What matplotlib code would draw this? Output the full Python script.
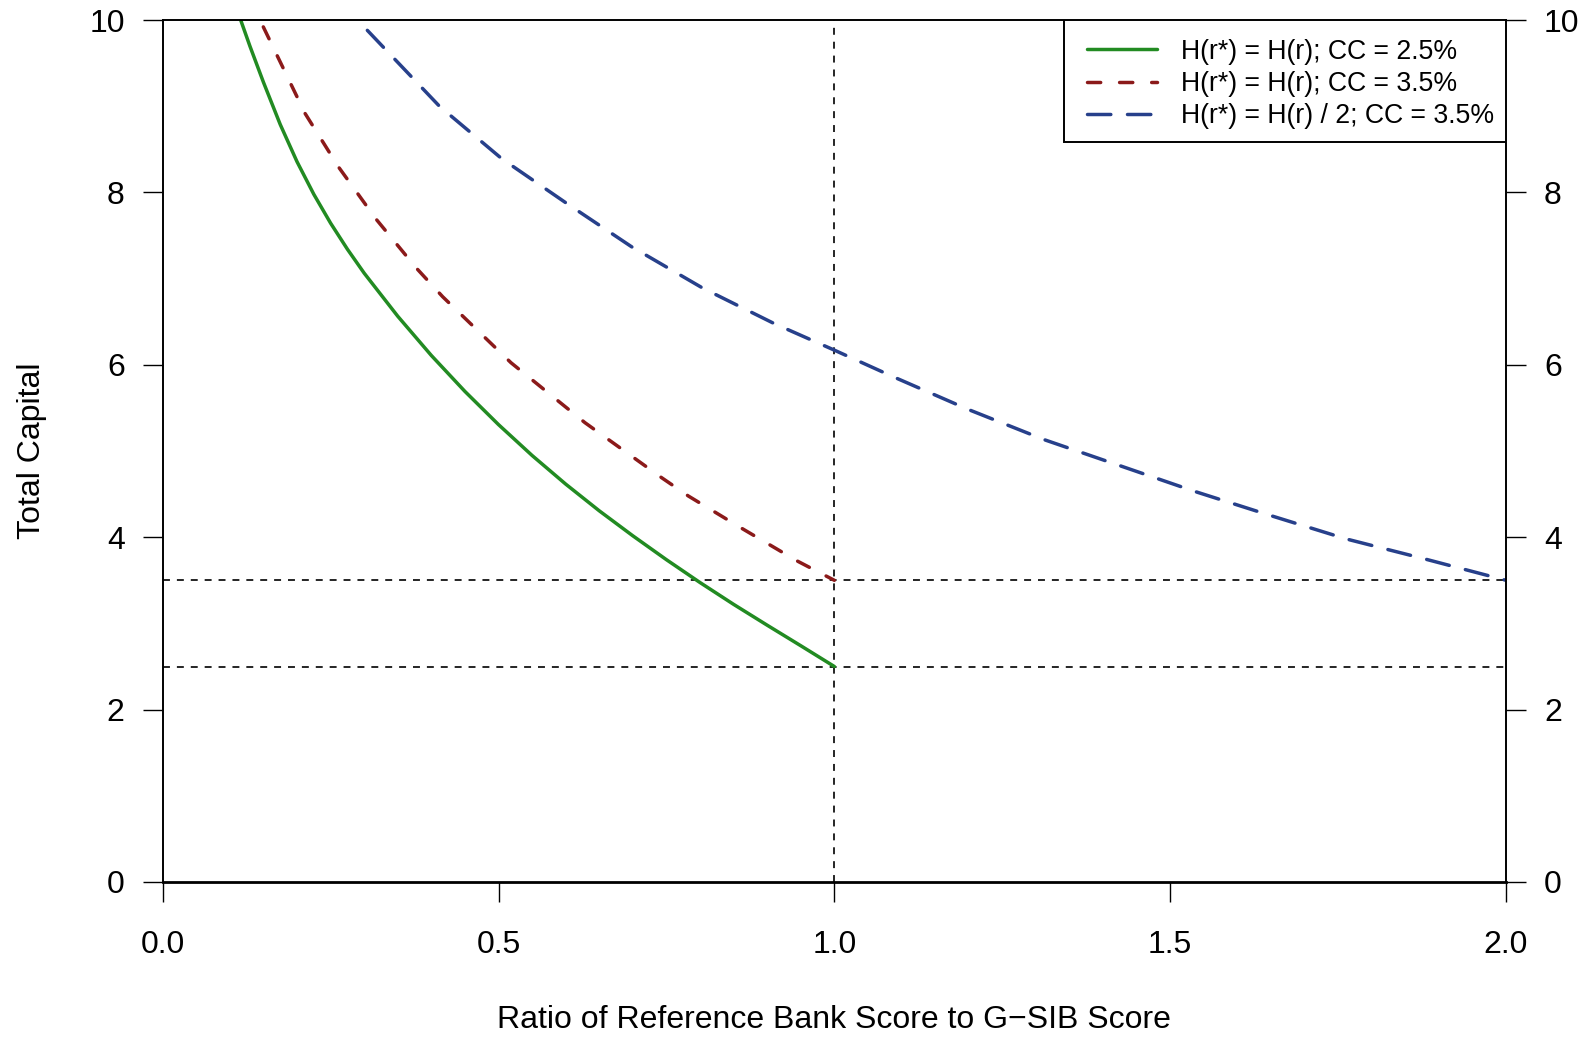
import matplotlib
matplotlib.use("Agg")
import matplotlib.pyplot as plt
from matplotlib.patches import Rectangle

plt.rcParams['font.family'] = ['Liberation Sans', 'DejaVu Sans']
plt.rcParams['lines.scale_dashes'] = False

# values
green_x = [0.1161, 0.13, 0.15, 0.175, 0.2, 0.225, 0.25, 0.275, 0.3, 0.35, 0.4,
           0.45, 0.5, 0.55, 0.6, 0.65, 0.7, 0.75, 0.8, 0.85, 0.9, 0.95, 1.0]
green_y = [10.0, 9.694, 9.278, 8.788, 8.356, 7.978, 7.643, 7.341, 7.063, 6.563, 6.108,
           5.691, 5.306, 4.948, 4.616, 4.306, 4.016, 3.739, 3.474, 3.221, 2.979, 2.741, 2.5]

red_x = [0.1498, 0.2119, 0.2615, 0.3176, 0.3771, 0.4168, 0.5186, 0.6288, 0.7429, 0.7826,
         0.863, 0.944, 1.0]
red_y = [9.92, 8.917, 8.298, 7.691, 7.127, 6.79, 6.024, 5.328, 4.69, 4.478,
         4.099, 3.727, 3.5]

blue_x = [0.3047, 0.412, 0.505, 0.602, 0.698, 0.804, 0.91, 1.0, 1.088, 1.2,
          1.313, 1.425, 1.537, 1.65, 1.762, 1.878, 2.0]
blue_y = [9.88, 9.0, 8.39, 7.87, 7.37, 6.89, 6.48, 6.17, 5.86, 5.48,
          5.13, 4.83, 4.53, 4.25, 3.98, 3.75, 3.5]

labels = ["H(r*) = H(r); CC = 2.5%",
          "H(r*) = H(r); CC = 3.5%",
          "H(r*) = H(r) / 2; CC = 3.5%"]

ref_x = [1.0]
ref_y = [2.5, 3.5]

x_ticks = [0.0, 0.5, 1.0, 1.5, 2.0]
y_ticks = [0, 2, 4, 6, 8, 10]

fig = plt.figure(figsize=(15.91, 10.37), dpi=100)
ax = fig.add_axes([0.10226, 0.14947, 0.84432, 0.83124])

# dashed guide lines
for v in ref_x:
    ax.axvline(v, color='black', lw=1.2, dashes=(5, 5))
for h in ref_y:
    ax.axhline(h, color='black', lw=1.2, dashes=(5, 5))

lw = 2.5
ax.plot(green_x, green_y, color='#228B22', lw=lw, label=labels[0],
        solid_capstyle='round', solid_joinstyle='round')
ax.plot(red_x, red_y, color='#8B1A1A', lw=lw, label=labels[1],
        dashes=(9.5, 13.6), dash_capstyle='round')
ax.plot(blue_x, blue_y, color='#27408B', lw=lw, label=labels[2],
        dashes=(16.8, 12.0), dash_capstyle='round')

ax.set_xlim(0, 2)
ax.set_ylim(0, 10)
ax.set_xticks(x_ticks)
ax.set_xticklabels(['%.1f' % t for t in x_ticks])
ax.set_yticks(y_ticks)

for s in ax.spines.values():
    s.set_linewidth(1.4)
ax.spines['bottom'].set_linewidth(2.0)

ax.tick_params(axis='x', length=14.4, width=1.0, pad=20.5, labelsize=23)
ax.tick_params(axis='y', length=14.4, width=1.0, pad=13, labelsize=23,
               left=True, right=True, labelleft=True, labelright=True)

ax.set_xlabel("Ratio of Reference Bank Score to G\u2212SIB Score", fontsize=23, labelpad=32)
ax.set_ylabel("Total Capital", fontsize=23, labelpad=30)

# legend: box drawn separately so the padding can match R's legend()
ax.add_patch(Rectangle((0.6712, 0.858), 1 - 0.6712, 1 - 0.858, transform=ax.transAxes,
                       facecolor='white', edgecolor='black', lw=1.4, zorder=4))
leg = ax.legend(loc='upper left', bbox_to_anchor=(0.6878, 0.9783), borderaxespad=0,
                borderpad=0, fontsize=19.2, handlelength=2.65, handletextpad=0.88,
                labelspacing=0.23, frameon=False)
leg.set_zorder(5)

fig.savefig('out.png', dpi=100)
